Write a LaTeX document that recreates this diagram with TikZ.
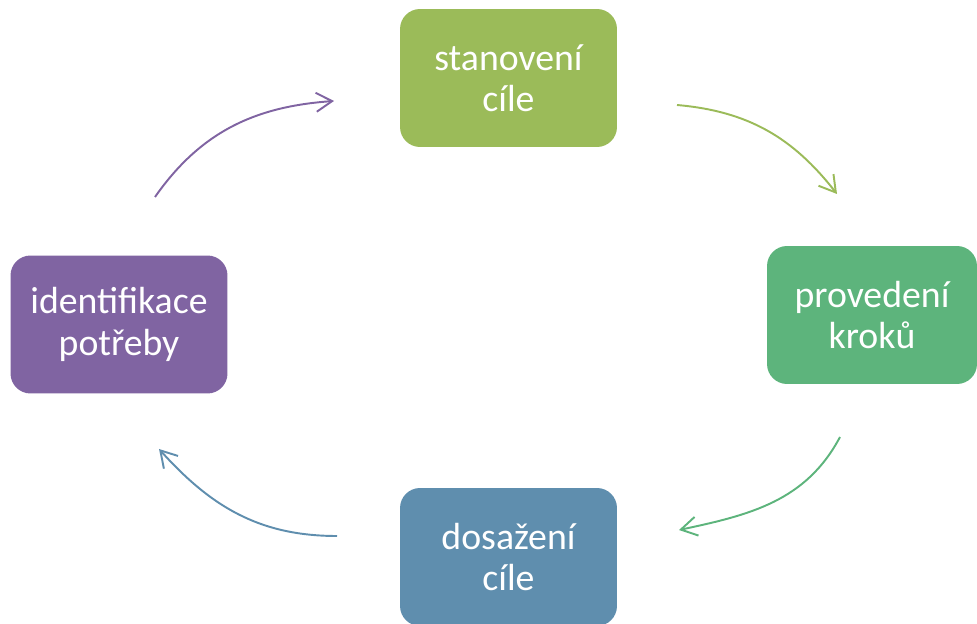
\documentclass[tikz,border=0pt]{standalone}
\usepackage{fontspec}
\setmainfont{Carlito}
\usetikzlibrary{arrows.meta}
\definecolor{zelena}{HTML}{9BBB59}
\definecolor{tyrkys}{HTML}{5DB47C}
\definecolor{modra}{HTML}{5F8EAE}
\definecolor{fialova}{HTML}{8064A2}
\begin{document}
\begin{tikzpicture}[x=0.02cm,y=-0.02cm,
	krok/.style={rounded corners=0.4cm,minimum width=4.34cm,minimum height=2.76cm,
		text=white,align=center,font=\fontsize{21.5}{23.5}\selectfont},
	sipka/.style={line width=1.1pt,-{Straight Barb[length=3.2mm,width=3.8mm]}}]
\clip (0,0) rectangle (977,624);
\node[krok,fill=zelena] (cil) at (508.5,78) {stanovení\\cíle};
\node[krok,fill=tyrkys,minimum width=4.2cm] (kroky) at (872,315) {provedení\\kroků};
\node[krok,fill=modra] (dosazeni) at (508.5,557) {dosažení\\cíle};
\node[krok,fill=fialova] (potreba) at (119,324.5) {identifikace\\potřeby};
% konce sipek
\coordinate (a1) at (155,197);
\coordinate (a2) at (334,101);
\coordinate (b1) at (677,105);
\coordinate (b2) at (837,194);
\coordinate (c1) at (840,437);
\coordinate (c2) at (679,530);
\coordinate (d1) at (337,536);
\coordinate (d2) at (159,449);
\draw[sipka,fialova] (a1) to[out=55,in=184] (a2);
\draw[sipka,zelena] (b1) to[out=-5,in=128] (b2);
\draw[sipka,tyrkys] (c1) to[out=-118,in=12] (c2);
\draw[sipka,modra] (d1) to[out=180,in=-48] (d2);
\end{tikzpicture}
\end{document}
